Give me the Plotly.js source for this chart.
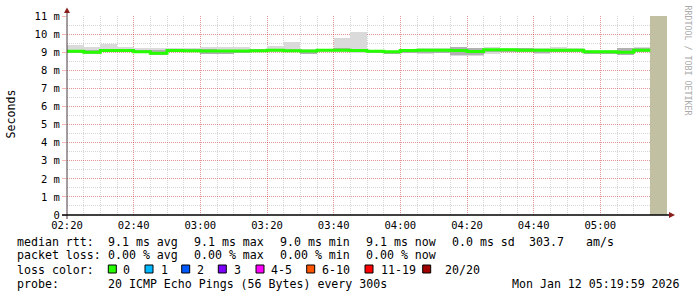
<!DOCTYPE html>
<html><head><meta charset="utf-8">
<script src="https://cdn.plot.ly/plotly-3.0.1.min.js"></script>
<style>html,body{margin:0;padding:0;background:#fff}#chart{width:697px;height:297px}</style>
</head><body><div id="chart"></div>
<script>
// ---------- data ----------
const day = '2026-01-12 ';
const times = ['02:20','02:25','02:30','02:35','02:40','02:45','02:50','02:55','03:00','03:05',
               '03:10','03:15','03:20','03:25','03:30','03:35','03:40','03:45','03:50','03:55',
               '04:00','04:05','04:10','04:15','04:20','04:25','04:30','04:35','04:40','04:45',
               '04:50','04:55','05:00','05:05','05:10'];
const xTickLabels = ['02:20','02:40','03:00','03:20','03:40','04:00','04:20','04:40','05:00'];
const rttMax    = [9.40,9.26,9.46,9.28,9.22,9.22,9.25,9.25,9.30,9.28, 9.28,9.18,9.34,9.56,9.19,9.14,9.80,10.13,9.10,9.08,
                   9.18,9.21,9.21,9.29,9.25,9.29,9.21,9.25,9.21,9.29, 9.21,9.10,9.10,9.21,9.29];
const rttHi     = [9.14,9.12,9.20,9.18,9.14,9.12,9.19,9.16,9.16,9.14, 9.14,9.16,9.18,9.18,9.14,9.18,9.24,9.18,9.10,9.07,
                   9.16,9.17,9.17,9.26,9.22,9.20,9.19,9.24,9.18,9.20, 9.19,9.08,9.08,9.21,9.24];
const rttMedian = [9.05,9.00,9.09,9.09,9.03,8.94,9.09,9.08,9.07,9.07, 9.07,9.08,9.10,9.08,9.07,9.11,9.11,9.09,9.05,9.02,
                   9.09,9.11,9.11,9.09,9.04,9.14,9.14,9.11,9.11,9.11, 9.11,9.03,9.03,8.99,9.11];
const rttLo     = [8.98,8.91,9.01,9.02,8.96,8.85,9.02,9.00,8.92,8.92, 8.95,9.02,9.04,9.00,8.89,9.04,9.04,9.00,8.97,8.89,
                   8.97,8.93,8.96,8.83,8.84,9.00,9.03,9.03,8.93,9.03, 9.03,8.89,8.92,8.87,9.03];
const rttMin    = [8.95,8.90,9.00,9.00,8.96,8.83,9.00,8.99,8.90,8.90, 8.94,9.00,9.03,8.99,8.88,9.02,9.03,8.97,8.95,8.88,
                   8.95,8.92,8.95,8.80,8.80,8.88,9.00,9.00,8.92,9.00, 9.00,8.88,8.90,8.86,9.00];
const pendingStart = ['05:15'];
const pendingTop   = [11];
const yTickVals = [0,1,2,3,4,5,6,7,8,9,10,11];
const yTickText = ['0','1 m','2 m','3 m','4 m','5 m','6 m','7 m','8 m','9 m','10 m','11 m'];
const rttStats  = ['9.1 ms avg','9.1 ms max','9.0 ms min','9.1 ms now','0.0 ms sd','303.7','am/s'];
const lossStats = ['0.00 % avg','0.00 % max','0.00 % min','0.00 % now'];
const lossLabels = ['0','1','2','3','4-5','6-10','11-19','20/20'];
const lossColors = ['#26ff00','#00b8ff','#0059ff','#7e00ff','#ff00ff','#ff5500','#ff0000','#a10000'];
const probeText = '20 ICMP Echo Pings (56 Bytes) every 300s';
const stampText = 'Mon Jan 12 05:19:59 2026';

// ---------- layout helpers (pixel geometry) ----------
const L = 67, R = 667, T = 16, B = 215, W = R - L, H = B - T;
const fx = p => (p - L) / W;
const fy = p => (B - p) / H;
const STEP = 300000;
const MONO = 'DejaVu Sans Mono';
const rttX = [107, 193, 279.5, 365, 451, 528, 585];
const lossX = [107, 193, 279.5, 365];
const boxX = [108.3, 145, 181.7, 218.3, 256, 306.7, 365, 422.7];
const boxLabelX = [122.7, 160, 196.7, 233.3, 270.7, 321.7, 380, 445];
const lineY = [241.8, 255.4, 269.6, 283.6];

const xs = times.map(t => day + t);
const lastEnd = new Date(new Date(xs[xs.length - 1].replace(' ', 'T') + 'Z').getTime() + STEP)
  .toISOString().slice(0, 16).replace('T', ' ');

const traces = [
  { type: 'bar', x: pendingStart.map(t => day + t), y: pendingTop, base: pendingTop.map(() => 0),
    width: STEP, offset: 0, marker: { color: '#c2c0a2', line: { width: 0 } }, hoverinfo: 'skip' },
  { type: 'bar', x: xs, y: rttMax.map((v, i) => v - rttMin[i]), base: rttMin,
    width: STEP, offset: 0, marker: { color: '#dadada', line: { width: 0 } }, hoverinfo: 'skip' },
  { type: 'bar', x: xs, y: rttHi.map((v, i) => v - rttLo[i]), base: rttLo,
    width: STEP, offset: 0, marker: { color: '#b0b0b0', line: { width: 0 } }, hoverinfo: 'skip' },
  { type: 'scatter', mode: 'lines', x: xs.concat([lastEnd]),
    y: rttMedian.concat([rttMedian[rttMedian.length - 1]]),
    line: { shape: 'hv', color: '#26ff00', width: 3 }, hoverinfo: 'skip' }
];

function ann(text, px, py, opts) {
  return Object.assign({ text: text, xref: 'paper', yref: 'paper', x: fx(px - 1.5), y: fy(py),
    xanchor: 'left', yanchor: 'middle', showarrow: false,
    font: { family: MONO, size: 11.6, color: '#000' } }, opts || {});
}

const annotations = [
  ann('Seconds', 10.5, 114, { x: fx(10.5), xanchor: 'center', textangle: -90 }),
  ann('RRDTOOL / TOBI OETIKER', 687.5, 60, { x: fx(687.5), xanchor: 'center', textangle: 90,
    font: { family: MONO, size: 8.3, color: '#aaaaaa' } }),
  ann('median rtt:', 16, lineY[0]),
  ann('packet loss:', 16, lineY[1]),
  ann('loss color:', 16, lineY[2]),
  ann('probe:', 16, lineY[3]),
  ann(probeText, 107, lineY[3]),
  ann(stampText, 681, lineY[3], { x: fx(681.5), xanchor: 'right' })
];
rttStats.forEach((s, i) => annotations.push(ann(s, rttX[i], lineY[0])));
lossStats.forEach((s, i) => annotations.push(ann(s, lossX[i], lineY[1])));
lossLabels.forEach((s, i) => annotations.push(ann(s, boxLabelX[i], lineY[2])));

const shapes = [
  { type: 'line', xref: 'paper', yref: 'paper', x0: fx(67), x1: fx(67), y0: fy(219), y1: fy(12),
    line: { color: '#4a3a3a', width: 1 } },
  { type: 'line', xref: 'paper', yref: 'paper', x0: fx(62), x1: fx(669), y0: fy(215), y1: fy(215),
    line: { color: '#000', width: 1.5 } },
  { type: 'path', xref: 'paper', yref: 'paper',
    path: `M ${fx(67)} ${fy(7.5)} L ${fx(64)} ${fy(13)} L ${fx(70)} ${fy(13)} Z`,
    fillcolor: '#8c1c1c', line: { width: 0 } },
  { type: 'path', xref: 'paper', yref: 'paper',
    path: `M ${fx(675)} ${fy(215)} L ${fx(669)} ${fy(212)} L ${fx(669)} ${fy(218)} Z`,
    fillcolor: '#8c1c1c', line: { width: 0 } }
];
lossColors.forEach((c, i) => shapes.push({ type: 'rect', xref: 'paper', yref: 'paper',
  x0: fx(boxX[i]), x1: fx(boxX[i] + 8), y0: fy(273), y1: fy(265),
  fillcolor: c, line: { color: '#000', width: 1 } }));

const majorGrid = 'rgba(255,0,0,0.3)';
const minorGrid = 'rgba(110,110,110,0.28)';

const layout = {
  width: 697, height: 297,
  margin: { l: L, r: 697 - R, t: T, b: 297 - B, pad: 0 },
  paper_bgcolor: '#ffffff', plot_bgcolor: '#ffffff',
  showlegend: false, barmode: 'overlay', bargap: 0,
  xaxis: {
    type: 'date', range: [day + '02:20', day + '05:20'],
    tickmode: 'array', tickvals: xTickLabels.map(t => day + t), ticktext: xTickLabels,
    showgrid: true, gridcolor: majorGrid, griddash: '1px,1px', gridwidth: 1,
    minor: { tickmode: 'linear', tick0: day + '02:20', dtick: STEP, showgrid: true,
             gridcolor: minorGrid, griddash: '1px,1px', gridwidth: 1 },
    ticks: '', ticklabelstandoff: 2,
    showline: false, zeroline: false, fixedrange: true,
    tickfont: { family: MONO, size: 10.5, color: '#000' }
  },
  yaxis: {
    range: [0, 11], tickmode: 'array', tickvals: yTickVals, ticktext: yTickText,
    showgrid: true, gridcolor: majorGrid, griddash: '1px,1px', gridwidth: 1,
    minor: { tickmode: 'linear', tick0: 0, dtick: 0.5, showgrid: true,
             gridcolor: minorGrid, griddash: '1px,1px', gridwidth: 1 },
    ticks: 'outside', ticklen: 4, tickcolor: majorGrid,
    showline: false, zeroline: false, fixedrange: true,
    tickfont: { family: MONO, size: 10.5, color: '#000' }
  },
  shapes: shapes,
  annotations: annotations
};

Plotly.newPlot('chart', traces, layout, { staticPlot: true, displayModeBar: false });
</script>
</body></html>
